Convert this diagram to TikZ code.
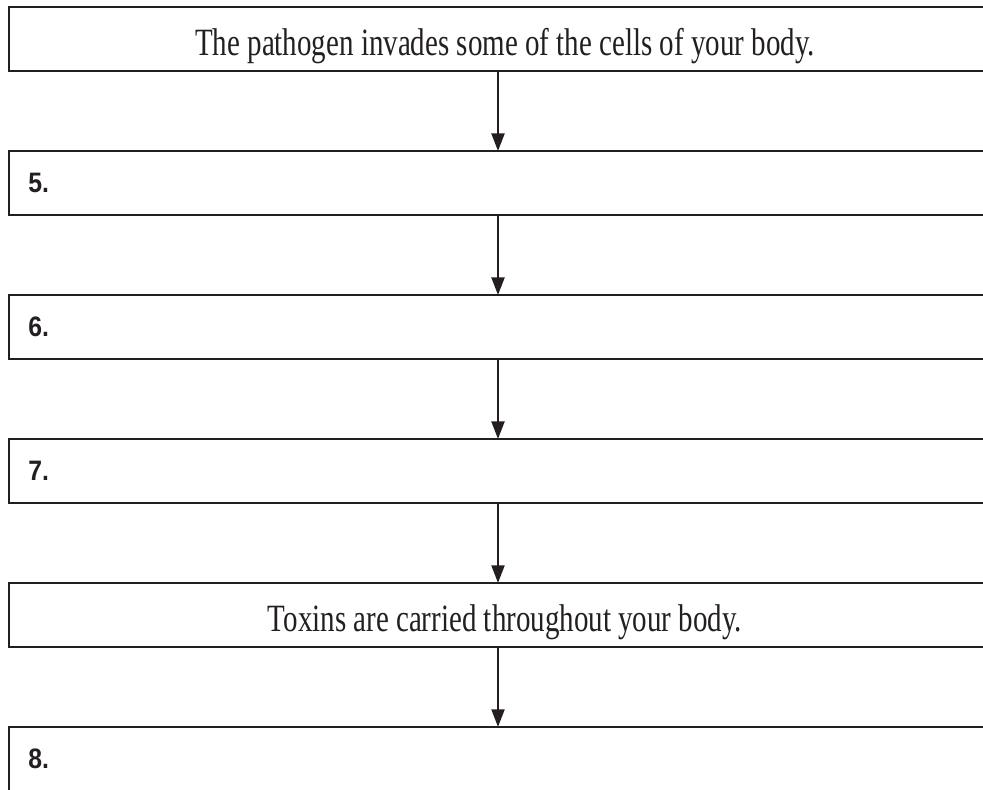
\documentclass[tikz,border=0pt]{standalone}
\usepackage{fontspec}
\setmainfont[FakeStretch=0.75]{Liberation Serif}
\newfontfamily\numfont[FakeStretch=0.88]{Liberation Sans}
\usetikzlibrary{arrows.meta, positioning}
\definecolor{inkDark}{RGB}{35,31,32}

\begin{document}
\begin{tikzpicture}[x=0.02cm, y=-0.02cm,
    stepbox/.style={minimum width=19.84cm, minimum height=1.28cm, inner sep=0pt, outer sep=0pt},
    boxedge/.style={draw=inkDark, line width=1.15pt},
    msgtext/.style={text=inkDark, font=\fontsize{22}{26}\selectfont, anchor=base},
    numlabel/.style={text=inkDark, font=\numfont\bfseries\fontsize{16}{19}\selectfont, inner sep=0pt},
    flow/.style={draw=inkDark, line width=0.9pt, -{Triangle[length=10pt, width=7.5pt]}}]
        \useasboundingbox (0,0) rectangle (983,790);
        \clip (0,0) rectangle (983,790);
        % boxes, open to the right
        \node[stepbox] (b1) at (505,39) {};
        \node[stepbox, below=1.6cm of b1] (b5) {};
        \node[stepbox, below=1.6cm of b5] (b6) {};
        \node[stepbox, below=1.6cm of b6] (b7) {};
        \node[stepbox, below=1.6cm of b7] (bT) {};
        \node[stepbox, below=1.6cm of bT, minimum height=2cm] (b8) {};
        \draw[boxedge] (b1.north east) -- (b1.north west) -- (b1.south west) -- (b1.south east);
        \draw[boxedge] (b5.north east) -- (b5.north west) -- (b5.south west) -- (b5.south east);
        \draw[boxedge] (b6.north east) -- (b6.north west) -- (b6.south west) -- (b6.south east);
        \draw[boxedge] (b7.north east) -- (b7.north west) -- (b7.south west) -- (b7.south east);
        \draw[boxedge] (bT.north east) -- (bT.north west) -- (bT.south west) -- (bT.south east);
        \draw[boxedge] (b8.north east) -- (b8.north west) -- (b8.south west);
        \node[msgtext] (t1) at ([yshift=-0.34cm]b1.center) {The pathogen invades some of the cells of your body.};
        \node[msgtext] (tT) at ([yshift=-0.34cm]bT.center) {Toxins are carried throughout your body.};
        \node[numlabel, right=0.38cm of b5.west] (n5) {5.};
        \node[numlabel, right=0.38cm of b6.west] (n6) {6.};
        \node[numlabel, right=0.38cm of b7.west] (n7) {7.};
        \node[numlabel, right=0.38cm of b8.north west, yshift=-0.64cm] (n8) {8.};
        % arrows
        \coordinate (axis) at (498,0);
        \draw[flow] (b1.south -| axis) -- (b5.north -| axis);
        \draw[flow] (b5.south -| axis) -- (b6.north -| axis);
        \draw[flow] (b6.south -| axis) -- (b7.north -| axis);
        \draw[flow] (b7.south -| axis) -- (bT.north -| axis);
        \draw[flow] (bT.south -| axis) -- (b8.north -| axis);
      \end{tikzpicture}
\end{document}
